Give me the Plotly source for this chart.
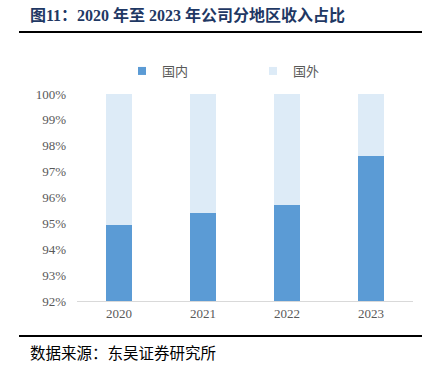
import plotly.graph_objects as go

years = ["2020", "2021", "2022", "2023"]
domestic = [0.9495, 0.9542, 0.9571, 0.9759]
foreign = [1 - v for v in domestic]
series_names = ["国内", "国外"]
series_colors = ["#5B9BD5", "#DDEBF7"]

W, H = 433, 369
L, R, T, B = 77, 20, 94, 68
pw, ph = W - L - R, H - T - B

def px(x):
    return (x - L) / pw

def py(y):
    return (H - B - y) / ph

fig = go.Figure()
for name, vals, col in zip(series_names, [domestic, foreign], series_colors):
    fig.add_trace(go.Bar(x=years, y=vals, name=name, marker_color=col,
                         marker_line_width=0, showlegend=False))
for name, col in zip(series_names, series_colors):
    fig.add_trace(go.Scatter(x=[None], y=[None], mode="markers", name=name,
                             marker=dict(symbol="square", size=8, color=col)))

fig.update_layout(
    width=W, height=H,
    margin=dict(l=L, r=R, t=T, b=B),
    barmode="stack", bargap=0.68,
    plot_bgcolor="white", paper_bgcolor="white",
    showlegend=True,
    legend=dict(orientation="h", x=px(122), xanchor="left", y=py(71), yanchor="middle",
                font=dict(family="Noto Sans CJK SC", size=13, color="#595959"),
                itemwidth=30, entrywidth=86, traceorder="normal"),
    xaxis=dict(showline=True, linecolor="#D9D9D9", linewidth=1, ticks="",
               tickfont=dict(family="Liberation Serif", size=13, color="#595959")),
    yaxis=dict(range=[0.92, 1.0], dtick=0.01, tickformat=".0%", showgrid=False,
               zeroline=False, ticks="", ticklabelstandoff=10,
               tickfont=dict(family="Liberation Serif", size=13, color="#595959")),
)

fig.add_shape(type="line", xref="paper", yref="paper", x0=px(19), x1=px(422),
              y0=py(32), y1=py(32), line=dict(color="#000000", width=2))
fig.add_shape(type="line", xref="paper", yref="paper", x0=px(19), x1=px(422),
              y0=py(336), y1=py(336), line=dict(color="#000000", width=2))

fig.add_annotation(xref="paper", yref="paper", x=px(28), y=py(15), xanchor="left",
                   yanchor="middle", showarrow=False,
                   text="<b>图11：2020 年至 2023 年公司分地区收入占比</b>",
                   font=dict(family="Liberation Serif, Noto Sans CJK SC", size=16,
                             color="#1F3864"))
fig.add_annotation(xref="paper", yref="paper", x=px(28), y=py(352), xanchor="left",
                   yanchor="middle", showarrow=False,
                   text="数据来源：东吴证券研究所",
                   font=dict(family="Noto Sans CJK SC", size=15.5, color="#000000"))

fig.write_html("out.html", config={"displayModeBar": False},
               post_script="document.body.style.margin='0';")
